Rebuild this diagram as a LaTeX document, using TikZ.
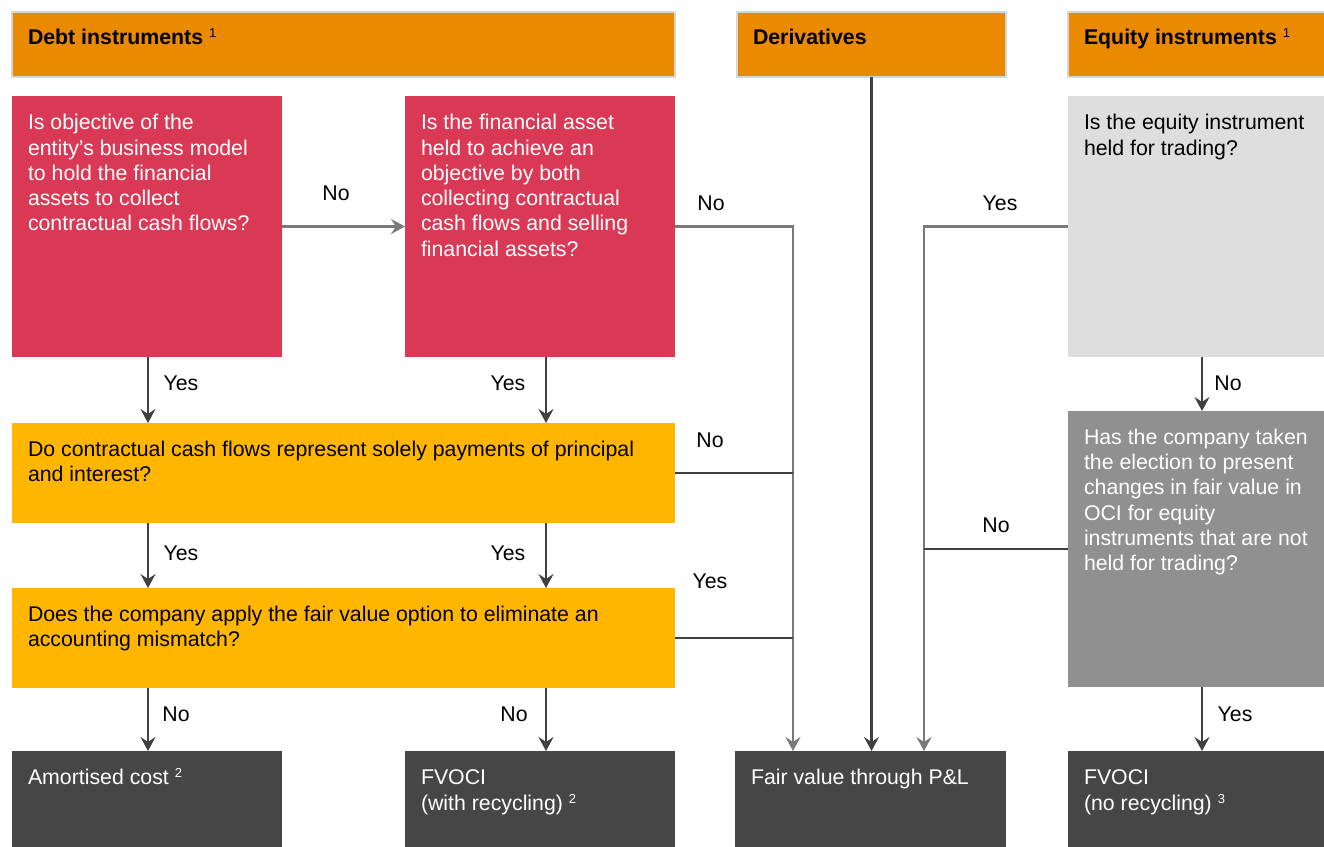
\documentclass[tikz,border=0pt]{standalone}
\usepackage{fontspec}
\setmainfont{Liberation Sans}
\usetikzlibrary{arrows.meta}
\definecolor{hdr}{HTML}{E98A00}
\definecolor{hdrline}{HTML}{D6D6D6}
\definecolor{qred}{HTML}{DA3956}
\definecolor{qyel}{HTML}{FFB600}
\definecolor{qlgrey}{HTML}{DEDEDE}
\definecolor{qmgrey}{HTML}{909090}
\definecolor{qdark}{HTML}{464646}
\definecolor{lndark}{HTML}{404040}
\definecolor{lngrey}{HTML}{7A7A7A}
\newcommand\fsmain{\fontsize{21.3}{25.3}\selectfont}
\newcommand\supnum[1]{\raisebox{7pt}{\fontsize{13}{13}\selectfont\mdseries #1}}
\begin{document}
\begin{tikzpicture}[x=1pt,y=-1pt,
  box/.style={anchor=north west, inner sep=0pt, outer sep=0pt},
  hdrbox/.style={box, fill=hdr, draw=hdrline, line width=2pt, minimum height=65pt},
  txt/.style={anchor=north west, inner sep=0pt, outer sep=0pt, align=left, font=\fsmain},
  lbl/.style={inner sep=0pt, font=\fsmain},
  darkln/.style={draw=lndark, line width=2.6pt},
  greyln/.style={draw=lngrey, line width=2.2pt},
  arr/.style={-{Stealth[length=14pt,width=15pt,inset=5pt]}}
]
\path[clip] (0,0) rectangle (1324,846);
\fill[white] (0,0) rectangle (1324,846);

% headers
\node[hdrbox, minimum width=663pt] (hdebt) at (12,12) {};
\node[hdrbox, minimum width=269pt] (der) at (737,12) {};
\node[hdrbox, minimum width=270pt] (heq) at (1068,12) {};
\node[txt, font=\fsmain\bfseries] (hdebtt) at ([xshift=16pt,yshift=-14.3pt]hdebt.north west) {\strut Debt instruments \supnum{1}};
\node[txt, font=\fsmain\bfseries] (dert) at ([xshift=16pt,yshift=-14.3pt]der.north west) {\strut Derivatives};
\node[txt, font=\fsmain\bfseries] (heqt) at ([xshift=16pt,yshift=-14.3pt]heq.north west) {\strut Equity instruments \supnum{1}};

% question boxes
\node[box, fill=qred, minimum width=270pt, minimum height=261pt] (q1) at (12,96) {};
\node[box, fill=qred, minimum width=270pt, minimum height=261pt] (q2) at (405,96) {};
\node[box, fill=qlgrey, minimum width=270pt, minimum height=261pt] (e1) at (1068,96) {};
\node[box, fill=qyel, minimum width=663pt, minimum height=100pt] (y1) at (12,423) {};
\node[box, fill=qyel, minimum width=663pt, minimum height=100pt] (y2) at (12,588) {};
\node[box, fill=qmgrey, minimum width=270pt, minimum height=276pt] (e2) at (1068,411) {};

\node[txt, text=white] (q1t) at ([xshift=16pt,yshift=-16pt]q1.north west)
  {\strut Is objective of the\\entity’s business model\\to hold the financial\\assets to collect\\contractual cash flows?};
\node[txt, text=white] (q2t) at ([xshift=16pt,yshift=-16pt]q2.north west)
  {\strut Is the financial asset\\held to achieve an\\objective by both\\collecting contractual\\cash flows and selling\\financial assets?};
\node[txt, text=black] (e1t) at ([xshift=16pt,yshift=-16pt]e1.north west)
  {\strut Is the equity instrument\\held for trading?};
\node[txt, text=black] (y1t) at ([xshift=16pt,yshift=-15.5pt]y1.north west)
  {\strut Do contractual cash flows represent solely payments of principal\\and interest?};
\node[txt, text=black] (y2t) at ([xshift=16pt,yshift=-15.5pt]y2.north west)
  {\strut Does the company apply the fair value option to eliminate an\\accounting mismatch?};
\node[txt, text=white] (e2t) at ([xshift=16pt,yshift=-15.5pt]e2.north west)
  {\strut Has the company taken\\the election to present\\changes in fair value in\\OCI for equity\\instruments that are not\\held for trading?};

% outcome boxes
\node[box, fill=qdark, minimum width=270pt, minimum height=100pt] (ac) at (12,751) {};
\node[box, fill=qdark, minimum width=270pt, minimum height=100pt] (fv1) at (405,751) {};
\node[box, fill=qdark, minimum width=271pt, minimum height=100pt] (fvpl) at (735,751) {};
\node[box, fill=qdark, minimum width=270pt, minimum height=100pt] (fv2) at (1068,751) {};
\node[txt, text=white] (act) at ([xshift=16pt,yshift=-16pt]ac.north west) {\strut Amortised cost \supnum{2}};
\node[txt, text=white] (fv1t) at ([xshift=16pt,yshift=-16pt]fv1.north west) {\strut FVOCI\\(with recycling) \supnum{2}};
\node[txt, text=white] (fvplt) at ([xshift=16pt,yshift=-16pt]fvpl.north west) {\strut Fair value through P\&L};
\node[txt, text=white] (fv2t) at ([xshift=16pt,yshift=-16pt]fv2.north west) {\strut FVOCI\\(no recycling) \supnum{3}};

% helper coordinates
\coordinate (jL) at (793,751);
\coordinate (jR) at (924,751);
\coordinate (cL) at (148,0);
\coordinate (cM) at (546,0);
\coordinate (cR) at (1202,0);

% connectors
\draw[greyln, arr] (q1.east) -- (q2.west);
\draw[greyln, arr] (q2.east) -| (jL);
\draw[darkln] (y1.east) -- (y1.east -| jL);
\draw[darkln] (y2.east) -- (y2.east -| jL);
\draw[darkln, arr] (der.south) -- (der.south |- fvpl.north);
\draw[greyln, arr] (e1.west) -| (jR);
\draw[darkln] (e2.west) -- (e2.west -| jR);

\draw[darkln, arr] (q1.south -| cL) -- (y1.north -| cL);
\draw[darkln, arr] (q2.south -| cM) -- (y1.north -| cM);
\draw[darkln, arr] (y1.south -| cL) -- (y2.north -| cL);
\draw[darkln, arr] (y1.south -| cM) -- (y2.north -| cM);
\draw[darkln, arr] (y2.south -| cL) -- (ac.north -| cL);
\draw[darkln, arr] (y2.south -| cM) -- (fv1.north -| cM);
\draw[darkln, arr] (e1.south -| cR) -- (e2.north -| cR);
\draw[darkln, arr] (e2.south -| cR) -- (fv2.north -| cR);

% labels
\node[lbl] (l1) at (336,193) {No};
\node[lbl] (l2) at (711,203) {No};
\node[lbl] (l3) at (710,440) {No};
\node[lbl] (l4) at (710,581) {Yes};
\node[lbl] (l5) at (1000,203) {Yes};
\node[lbl] (l6) at (996,525) {No};
\node[lbl] (l7) at (181,383) {Yes};
\node[lbl] (l8) at (508,383) {Yes};
\node[lbl] (l9) at (181,553) {Yes};
\node[lbl] (l10) at (508,553) {Yes};
\node[lbl] (l11) at (176,714) {No};
\node[lbl] (l12) at (514,714) {No};
\node[lbl] (l13) at (1228,383) {No};
\node[lbl] (l14) at (1235,714) {Yes};
\end{tikzpicture}
\end{document}
